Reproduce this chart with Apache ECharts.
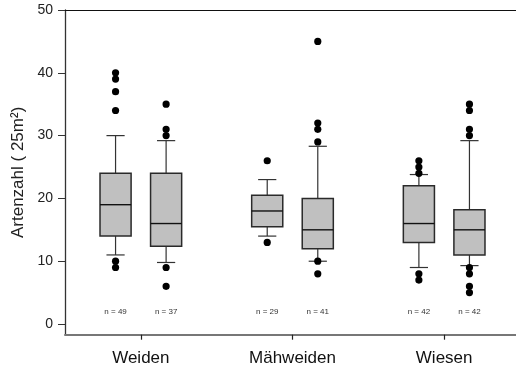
<!DOCTYPE html>
<html><head><meta charset="utf-8">
<script src="https://cdn.jsdelivr.net/npm/echarts@6/dist/echarts.min.js"></script>
<style>html,body{margin:0;padding:0;background:#fff}#c{width:516px;height:373px}</style>
</head><body><div id="c"></div>
<script>
const categories = ['Weiden', 'Mähweiden', 'Wiesen'];
const yTicks = [0, 10, 20, 30, 40, 50];
// one entry per box: category index, side within category (0 = left, 1 = right)
const boxGroup = [0, 0, 1, 1, 2, 2];
const boxSide = [0, 1, 0, 1, 0, 1];
const whiskerLow = [11, 9.8, 14, 10, 9, 9.3];
const q1 = [14, 12.4, 15.5, 12, 13, 11];
const median = [19, 16, 18, 15, 16, 15];
const q3 = [24, 24, 20.5, 20, 22, 18.2];
const whiskerHigh = [30, 29.2, 23, 28.3, 23.8, 29.2];
const nCounts = [49, 37, 29, 41, 42, 42];
const outliers = [
  [40, 39, 37, 34, 10, 9],
  [35, 31, 30, 9, 6],
  [26, 13],
  [45, 32, 31, 29, 10, 8],
  [26, 25, 24, 8, 7],
  [35, 34, 31, 30, 9, 8, 6, 5]
];

const FONT = 'Liberation Sans, Arial, sans-serif';

const boxData = boxGroup.map((g, i) => [g, boxSide[i], whiskerLow[i], q1[i], median[i], q3[i], whiskerHigh[i], nCounts[i]]);
const outlierData = [];
outliers.forEach((list, i) => list.forEach(v => outlierData.push([boxGroup[i], boxSide[i], v])));

function centerX(api) {
  const band = api.size([1, 0])[0];
  return api.coord([api.value(0), 0])[0] + (api.value(1) === 0 ? -1 : 1) * band / 6;
}

const chart = echarts.init(document.getElementById('c'), null, {renderer: 'canvas'});
chart.setOption({
  animation: false,
  backgroundColor: '#fff',
  grid: {left: 65, right: -4, top: 10, bottom: 38.3, containLabel: false, outerBoundsMode: 'none'},
  xAxis: [{
    type: 'category', data: categories, position: 'bottom',
    axisLine: {onZero: false, lineStyle: {color: '#777', width: 2}},
    axisTick: {show: true, alignWithLabel: true, length: 5, lineStyle: {color: '#222', width: 1.2}},
    axisLabel: {fontSize: 17, color: '#111', margin: 15, fontFamily: FONT},
    splitLine: {show: false}
  }, {
    type: 'category', data: categories, position: 'top',
    axisLine: {onZero: false, lineStyle: {color: '#111', width: 1}},
    axisTick: {show: false}, axisLabel: {show: false}, splitLine: {show: false}
  }],
  yAxis: {
    type: 'value', min: -1.7, max: 50,
    axisLine: {show: true, onZero: false, lineStyle: {color: '#333', width: 1.3}},
    axisTick: {show: true, length: 7, customValues: yTicks, lineStyle: {color: '#333', width: 1}},
    axisLabel: {customValues: yTicks, fontSize: 14, color: '#222', margin: 12, fontFamily: FONT},
    splitLine: {show: false},
    name: 'Artenzahl ( 25m²)', nameLocation: 'middle', nameGap: 37,
    nameTextStyle: {fontSize: 17, color: '#222', fontFamily: FONT}
  },
  series: [{
    type: 'custom',
    data: boxData,
    encode: {x: 0, y: [2, 3, 4, 5, 6]},
    renderItem: function (params, api) {
      const band = api.size([1, 0])[0];
      const cx = centerX(api);
      const yv = v => api.coord([api.value(0), v])[1];
      const lo = yv(api.value(2)), b1 = yv(api.value(3)), md = yv(api.value(4)), b3 = yv(api.value(5)), hi = yv(api.value(6));
      const y0 = yv(0);
      const bw = band * 0.205, cw = band * 0.12;
      const wl = {stroke: '#333', lineWidth: 1.2};
      return {type: 'group', children: [
        {type: 'line', shape: {x1: cx, y1: hi, x2: cx, y2: b3}, style: wl},
        {type: 'line', shape: {x1: cx, y1: b1, x2: cx, y2: lo}, style: wl},
        {type: 'line', shape: {x1: cx - cw / 2, y1: hi, x2: cx + cw / 2, y2: hi}, style: wl},
        {type: 'line', shape: {x1: cx - cw / 2, y1: lo, x2: cx + cw / 2, y2: lo}, style: wl},
        {type: 'rect', shape: {x: cx - bw / 2, y: b3, width: bw, height: b1 - b3}, style: {fill: '#c0c0c0', stroke: '#2a2a2a', lineWidth: 1.5}},
        {type: 'line', shape: {x1: cx - bw / 2, y1: md, x2: cx + bw / 2, y2: md}, style: {stroke: '#111', lineWidth: 1.4}},
        {type: 'text', x: cx, y: y0 - 12, style: {text: 'n = ' + api.value(7), align: 'center', verticalAlign: 'middle', fontSize: 8, fill: '#333', fontFamily: FONT}}
      ]};
    }
  }, {
    type: 'custom',
    data: outlierData,
    encode: {x: 0, y: 2},
    renderItem: function (params, api) {
      const cx = centerX(api);
      const cy = api.coord([api.value(0), api.value(2)])[1];
      return {type: 'circle', shape: {cx: cx, cy: cy, r: 3.6}, style: {fill: '#000'}};
    }
  }]
});
</script>
</body></html>
